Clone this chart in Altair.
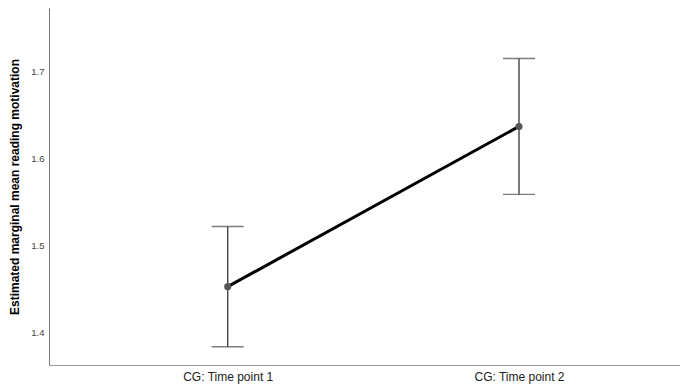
import altair as alt
import pandas as pd

categories = ["CG: Time point 1", "CG: Time point 2"]
means = [1.453, 1.637]
ci_low = [1.384, 1.559]
ci_high = [1.522, 1.715]

df = pd.DataFrame({
    "idx": list(range(len(categories))),
    "cat": categories,
    "mean": means,
    "lo": ci_low,
    "hi": ci_high,
})

label_expr = "datum.value == 0 ? '" + categories[0] + "' : (datum.value == 1 ? '" + categories[1] + "' : '')"

xscale = alt.Scale(domain=[-0.6135, 1.5527], nice=False, zero=False)
yscale = alt.Scale(domain=[1.363, 1.773], nice=False, zero=False)

x_enc = alt.X("idx:Q", scale=xscale,
              axis=alt.Axis(values=[0, 1], labelExpr=label_expr, title=None, grid=False,
                            ticks=False, domainColor="#999999", labelFont="Liberation Sans",
                            labelFontSize=12, labelColor="#222222", labelPadding=6))
y_axis = alt.Axis(values=[1.4, 1.5, 1.6, 1.7], format=".1f", grid=False, ticks=False,
                  domainColor="#777777", labelFont="Liberation Sans", labelFontSize=9.5,
                  labelColor="#444444", labelPadding=5,
                  title="Estimated marginal mean reading motivation",
                  titleFont="Liberation Sans", titleFontSize=12, titleFontWeight="bold",
                  titleColor="#000000", titlePadding=9)

base = alt.Chart(df)

rule = base.mark_rule(color="#444444", strokeWidth=1.4).encode(
    x=x_enc, y=alt.Y("lo:Q", scale=yscale, axis=y_axis), y2="hi:Q")
cap_lo = base.mark_tick(color="#444444", thickness=1.4, size=32, orient="horizontal").encode(
    x="idx:Q", y="lo:Q")
cap_hi = base.mark_tick(color="#444444", thickness=1.4, size=32, orient="horizontal").encode(
    x="idx:Q", y="hi:Q")
line = base.mark_line(color="#000000", strokeWidth=3).encode(x="idx:Q", y="mean:Q")
pts = base.mark_circle(color="#555555", size=50, opacity=1).encode(x="idx:Q", y="mean:Q")

chart = alt.layer(rule, cap_lo, cap_hi, line, pts).properties(
    width=631, height=357,
    background="white",
    autosize=alt.AutoSizeParams(type="none"),
    padding={"left": 41, "top": 0, "right": 0, "bottom": 20},
).configure_view(strokeWidth=0, stroke="transparent")

chart.save("out.html", embed_options={"renderer": "svg", "actions": False})
